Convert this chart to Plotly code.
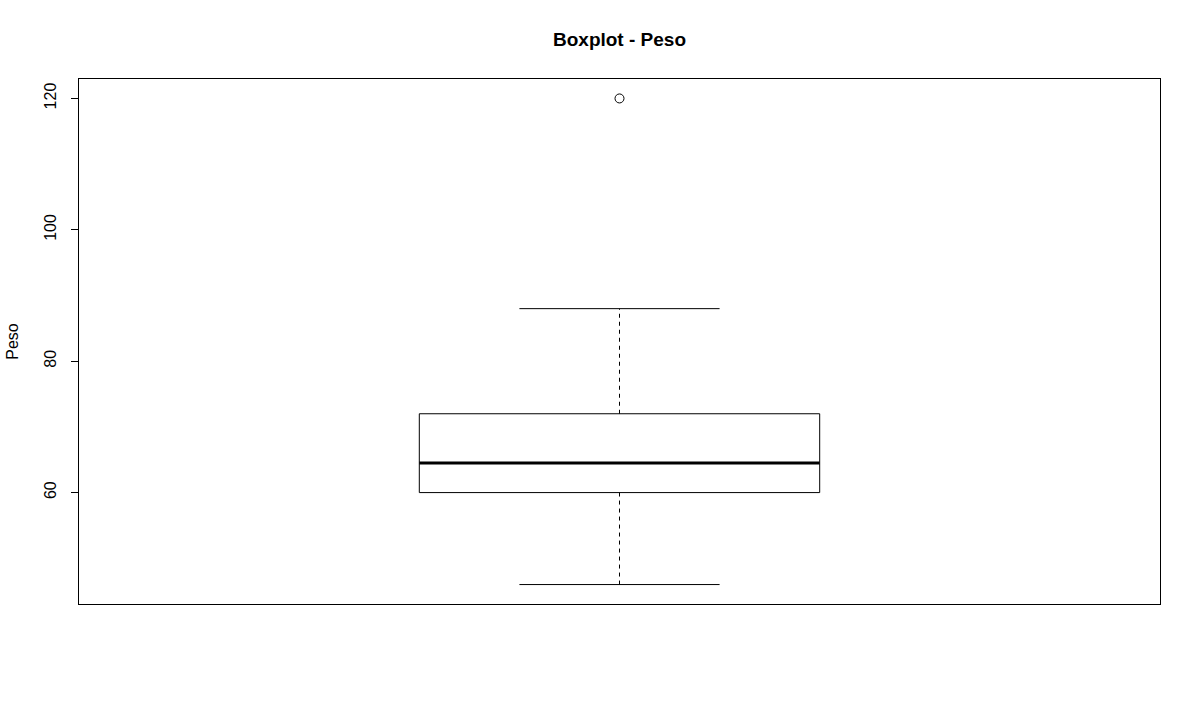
import plotly.graph_objects as go

# Summary statistics of "Peso"
lower_whisker = [46]
q1 = [60]
median = [64.5]
q3 = [72]
upper_whisker = [88]
outliers = [120]
y_ticks = [60, 80, 100, 120]

pos = 1.0
half_box = 0.2
half_staple = 0.1
blk = "black"

fig = go.Figure()

# whiskers (dashed)
for a, b in [(lower_whisker[0], q1[0]), (q3[0], upper_whisker[0])]:
    fig.add_trace(go.Scatter(x=[pos, pos], y=[a, b], mode="lines",
                             line=dict(color=blk, width=1, dash="4px,4px"),
                             hoverinfo="skip", showlegend=False))
# staples
for v in [lower_whisker[0], upper_whisker[0]]:
    fig.add_trace(go.Scatter(x=[pos - half_staple, pos + half_staple], y=[v, v], mode="lines",
                             line=dict(color=blk, width=1), hoverinfo="skip", showlegend=False))
# box
fig.add_trace(go.Scatter(x=[pos - half_box, pos + half_box, pos + half_box, pos - half_box, pos - half_box],
                         y=[q1[0], q1[0], q3[0], q3[0], q1[0]], mode="lines",
                         line=dict(color=blk, width=1), hoverinfo="skip", showlegend=False))
# median
fig.add_trace(go.Scatter(x=[pos - half_box, pos + half_box], y=[median[0], median[0]], mode="lines",
                         line=dict(color=blk, width=3), hoverinfo="skip", showlegend=False))
# outliers
fig.add_trace(go.Scatter(x=[pos] * len(outliers), y=outliers, mode="markers",
                         marker=dict(symbol="circle-open", size=9, color=blk, line=dict(width=1, color=blk)),
                         showlegend=False))

data_min = min(lower_whisker + outliers)
data_max = max(upper_whisker + outliers)
pad = 0.04 * (data_max - data_min)

fig.update_layout(
    width=1200, height=702,
    margin=dict(l=79, r=40, t=79, b=98),
    paper_bgcolor="white", plot_bgcolor="white",
    font=dict(family="Liberation Sans, Arial, sans-serif", size=16, color="black"),
    title=dict(text="<b>Boxplot - Peso</b>", x=0.5, xref="paper", y=1 - 39 / 702, yanchor="middle",
               xanchor="center", font=dict(size=19)),
    xaxis=dict(range=[0.46, 1.54], showticklabels=False, ticks="", showgrid=False, zeroline=False,
               showline=True, mirror=True, linecolor=blk, linewidth=1, fixedrange=True),
    yaxis=dict(range=[data_min - pad, data_max + pad], tickvals=y_ticks, ticktext=[str(t) for t in y_ticks],
               ticks="outside", ticklen=7, tickcolor=blk, tickangle=-90, showgrid=False, zeroline=False,
               showline=True, mirror=True, linecolor=blk, linewidth=1, ticklabelstandoff=9,
               title=dict(text="Peso", standoff=18, font=dict(size=16)),
               tickfont=dict(size=16)),
)

fig.write_html("out.html")
